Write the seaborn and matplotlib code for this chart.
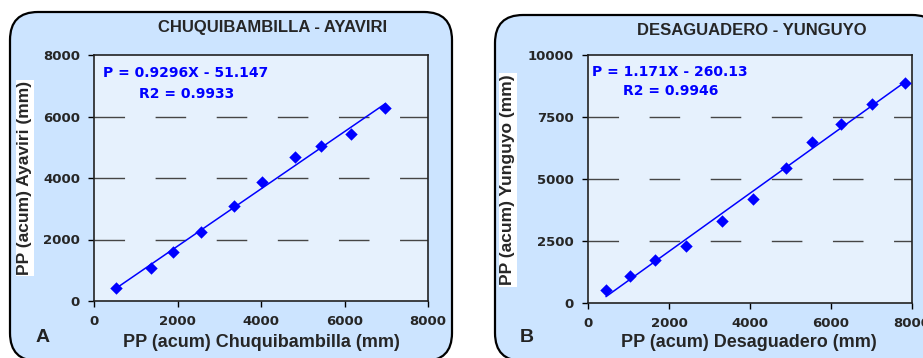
import numpy as np
import pandas as pd
import matplotlib
matplotlib.use("Agg")
import matplotlib.pyplot as plt
from matplotlib.patches import FancyBboxPatch
import seaborn as sns

# ---- data ----
chuq_x = [519, 1357, 1892, 2563, 3353, 4032, 4806, 5445, 6148, 6978]
ayav_y = [412, 1073, 1593, 2244, 3079, 3881, 4694, 5051, 5431, 6287]

desa_x = [444, 1045, 1654, 2420, 3309, 4074, 4889, 5531, 6247, 7012, 7819]
yung_y = [537, 1074, 1718, 2309, 3289, 4201, 5463, 6510, 7221, 8013, 8859]

title_a = "CHUQUIBAMBILLA - AYAVIRI"
title_b = "DESAGUADERO - YUNGUYO"
eq_a = ("P = 0.9296X - 51.147", "R2 = 0.9933")
eq_b = ("P = 1.171X - 260.13", "R2 = 0.9946")
xlabel_a = "PP (acum) Chuquibambilla (mm)"
ylabel_a = "PP (acum) Ayaviri (mm)"
xlabel_b = "PP (acum) Desaguadero (mm)"
ylabel_b = "PP (acum) Yunguyo (mm)"
xticks_a = [0, 2000, 4000, 6000, 8000]
yticks_a = [0, 2000, 4000, 6000, 8000]
xticks_b = [0, 2000, 4000, 6000, 8000]
yticks_b = [0, 2500, 5000, 7500, 10000]

df_a = pd.DataFrame({"x": chuq_x, "y": ayav_y})
df_b = pd.DataFrame({"x": desa_x, "y": yung_y})

sns.set_theme(style="white")
plt.rcParams["font.family"] = ["Liberation Sans", "DejaVu Sans"]
WIDE = ["DejaVu Sans"]

W, H = 923, 358
fig = plt.figure(figsize=(W / 100, H / 100), dpi=100)
fig.patch.set_facecolor("white")

BOX_BG = "#CCE4FF"
AX_BG = "#E6F1FD"
BLUE = "#0000FF"

# rounded panel boxes (in inches)
for (x0, y0, w, h) in [(0.10, -0.03, 4.42, 3.49), (4.95, -0.03, 4.45, 3.46)]:
    p = FancyBboxPatch((x0, y0), w, h,
                       boxstyle="round,pad=0,rounding_size=0.28",
                       transform=fig.dpi_scale_trans,
                       facecolor=BOX_BG, edgecolor="black", linewidth=1.6,
                       zorder=-5)
    fig.patches.append(p)


def px_axes(l, t, r, b):
    ax = fig.add_axes([l / W, 1 - b / H, (r - l) / W, (b - t) / H])
    ax.set_zorder(2)
    return ax


ax_a = px_axes(94, 55, 428, 301)
ax_b = px_axes(588, 55, 912, 303)


def style(ax, df, xt, yt, title, tpos, eq, eqpos, xl, xlpos, yl, ylpos):
    ax.set_facecolor(AX_BG)
    sns.scatterplot(data=df, x="x", y="y", ax=ax, marker="D", s=40,
                    color=BLUE, edgecolor=BLUE, linewidth=0, zorder=4)
    sns.regplot(data=df, x="x", y="y", ax=ax, scatter=False, ci=None,
                color=BLUE, line_kws={"linewidth": 1.1, "zorder": 3})
    ax.set_xlim(xt[0], xt[-1])
    ax.set_ylim(yt[0], yt[-1])
    ax.set_xticks(xt)
    ax.set_yticks(yt)
    ax.set_xticklabels([str(v) for v in xt], fontsize=9.5, fontweight="bold",
                       family=WIDE)
    ax.set_yticklabels([str(v) for v in yt], fontsize=9.5, fontweight="bold",
                       family=WIDE)
    ax.tick_params(axis="both", direction="out", length=4, width=1,
                   color="black", pad=6, bottom=True, left=True)
    for s in ax.spines.values():
        s.set_color("#222222")
        s.set_linewidth(1.2)
    for v in yt[1:-1]:
        ax.axhline(v, color="#454545", linewidth=1, dashes=(22, 22), zorder=1)
    ax.set_title(title, fontsize=12, fontweight="bold", x=tpos[0], y=tpos[1],
                 va="center", pad=0)
    ax.text(eqpos[0][0], eqpos[0][1], eq[0], transform=ax.transAxes,
            color=BLUE, fontsize=10, fontweight="bold", ha="left",
            va="center", family=WIDE)
    ax.text(eqpos[1][0], eqpos[1][1], eq[1], transform=ax.transAxes,
            color=BLUE, fontsize=10, fontweight="bold", ha="left",
            va="center", family=WIDE)
    ax.set_xlabel(xl, fontsize=13, fontweight="bold")
    ax.set_ylabel(yl, fontsize=12.5, fontweight="bold",
                  bbox=dict(facecolor="white", edgecolor="none", pad=1))
    ax.xaxis.set_label_coords(*xlpos)
    ax.yaxis.set_label_coords(*ylpos)
    ax.xaxis.label.set_va("center")
    ax.yaxis.label.set_va("center")


style(ax_a, df_a, xticks_a, yticks_a, title_a, (0.536, 1.11), eq_a,
      ((0.027, 0.927), (0.135, 0.841)), xlabel_a, (0.5, -0.167),
      ylabel_a, (-0.207, 0.5))
style(ax_b, df_b, xticks_b, yticks_b, title_b, (0.506, 1.097), eq_b,
      ((0.012, 0.931), (0.108, 0.855)), xlabel_b, (0.496, -0.161),
      ylabel_b, (-0.247, 0.496))

fig.text(43 / W, 1 - 338 / H, "A", fontsize=14, fontweight="bold",
         ha="center", va="center", color="#222222")
fig.text(527 / W, 1 - 338 / H, "B", fontsize=14, fontweight="bold",
         ha="center", va="center", color="#222222")

fig.savefig("out.png", dpi=100, facecolor="white")
